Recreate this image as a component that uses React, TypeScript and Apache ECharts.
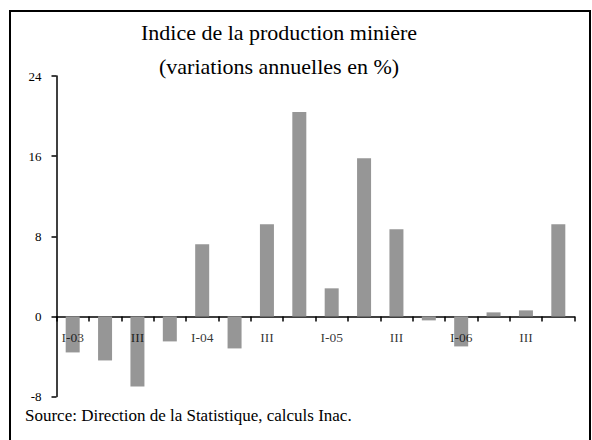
import React, { useEffect, useRef } from "react";
import * as echarts from "echarts";

const categories = [
  "I-03", "II-03", "III-03", "IV-03",
  "I-04", "II-04", "III-04", "IV-04",
  "I-05", "II-05", "III-05", "IV-05",
  "I-06", "II-06", "III-06", "IV-06",
];
const tickLabels = [
  "I-03", "", "III", "",
  "I-04", "", "III", "",
  "I-05", "", "III", "",
  "I-06", "", "III", "",
];
const values = [
  -3.6, -4.4, -7.0, -2.5,
  7.2, -3.2, 9.2, 20.4,
  2.8, 15.8, 8.7, -0.4,
  -3.0, 0.4, 0.6, 9.2,
];
const yTicks = { min: -8, max: 24, interval: 8 };

const FONT = "'Liberation Serif', 'DejaVu Serif', serif";

export default function App() {
  const ref = useRef<HTMLDivElement>(null);
  useEffect(() => {
    if (!ref.current) return;
    const chart = echarts.init(ref.current, null, { renderer: "svg" });
    chart.setOption({
      animation: false,
      backgroundColor: "#ffffff",
      title: {
        text: "Indice de la production minière\n(variations annuelles en %)",
        left: 274,
        top: 10,
        textAlign: "center",
        textStyle: {
          fontFamily: FONT,
          fontSize: 22,
          fontWeight: "normal",
          color: "#000",
          lineHeight: 34,
        },
      },
      grid: { left: 56.5, right: 17.5, top: 76, bottom: 43.5, containLabel: false },
      xAxis: {
        type: "category",
        data: categories,
        boundaryGap: true,
        axisLine: { onZero: true, lineStyle: { color: "#000", width: 1.5 } },
        axisTick: { show: true, interval: 0, length: 5, inside: false, lineStyle: { color: "#000", width: 1.5 } },
        axisLabel: { show: false },
        splitLine: { show: false },
      },
      yAxis: {
        type: "value",
        min: yTicks.min,
        max: yTicks.max,
        interval: yTicks.interval,
        axisLine: { show: true, lineStyle: { color: "#000", width: 1.5 } },
        axisTick: { show: true, length: 5, inside: false, lineStyle: { color: "#000", width: 1.5 } },
        axisLabel: { margin: 15, fontFamily: FONT, fontSize: 13, color: "#000" },
        splitLine: { show: false },
      },
      series: [
        {
          type: "bar",
          data: values,
          barWidth: 14,
          itemStyle: { color: "#969696" },
        },
        {
          type: "scatter",
          data: categories.map(() => 0),
          symbolSize: 0,
          silent: true,
          z: 10,
          label: {
            show: true,
            position: "bottom",
            distance: 14,
            fontFamily: FONT,
            fontSize: 13.5,
            color: "#000",
            formatter: (p: any) => tickLabels[p.dataIndex],
          },
        },
      ],
      graphic: [
        {
          type: "rect",
          shape: { x: 10, y: 11, width: 580, height: 440 },
          style: { fill: "none", stroke: "#000", lineWidth: 2 },
          silent: true,
        },
        {
          type: "text",
          x: 25,
          y: 415,
          style: {
            text: "Source: Direction de la Statistique, calculs Inac.",
            fontFamily: FONT,
            fontSize: 17,
            fill: "#000",
            verticalAlign: "middle",
          },
        },
      ],
    });
    return () => chart.dispose();
  }, []);
  return (
    <div
      ref={ref}
      style={{ position: "fixed", left: 0, top: 0, width: 592, height: 440 }}
    />
  );
}
